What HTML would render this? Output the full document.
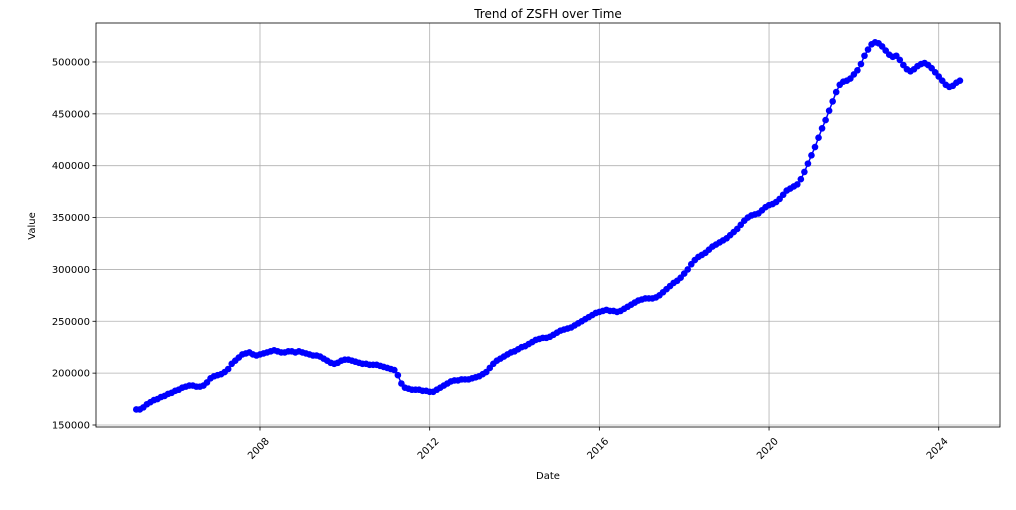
<!DOCTYPE html>
<html><head><meta charset="utf-8"><style>
body{margin:0;background:#fff;}
svg{display:block;font-family:"DejaVu Sans","Liberation Sans",sans-serif;}
</style></head><body>
<svg id="chart" width="1016" height="510"></svg>
<script>
const startYear = 2005 + 1/12;
const values = [
165,165,167,170,172,174,175,177,178,
180,181,183,184,186,187,188,188,187,187,188,191,
195,197,198,199,201,204,209,212,215,218,219,220,
218,217,218,219,220,221,222,221,220,220,221,221,
220,221,220,219,218,217,217,216,214,212,210,209,
210,212,213,213,212,211,210,209,209,208,208,208,
207,206,205,204,203,198,190,186,185,184,184,184,
183,183,182,182,184,186,188,190,192,193,193,194,
194,194,195,196,197,199,201,205,209,212,214,216,
218,220,221,223,225,226,228,230,232,233,234,234,
235,237,239,241,242,243,244,246,248,250,252,254,
256,258,259,260,261,260,260,259,260,262,264,266,
268,270,271,272,272,272,273,275,278,281,284,287,
289,292,296,300,305,309,312,314,316,319,322,324,
326,328,330,333,336,339,343,347,350,352,353,354,
357,360,362,363,365,368,372,376,378,380,382,387,
394,402,410,418,427,436,444,453,462,471,478,481,
482,484,488,492,498,506,512,517,519,518,515,511,
507,505,506,502,497,493,491,493,496,498,499,
497,494,490,486,482,478,476,477,480,482
];
const yTicks = [150000,200000,250000,300000,350000,400000,450000,500000];
const xTicks = [2008,2012,2016,2020,2024];

const NS = "http://www.w3.org/2000/svg";
const svg = document.getElementById('chart');
const L=96,R=1000,T=23,B=427;
function xs(yr){return 260+(yr-2008)*42.42;}
function ys(v){return 425-(v-150000)/50000*51.86;}
function mk(tag,attrs,parent){const e=document.createElementNS(NS,tag);for(const k in attrs)e.setAttribute(k,attrs[k]);(parent||svg).appendChild(e);return e;}

const grid=mk('g',{});


yTicks.forEach(t=>{
  const y=ys(t);
  const gl=mk('line',{x1:L,x2:R,y1:y,y2:y,stroke:'#b0b0b0','stroke-width':0.8},grid);
  
  
  mk('line',{x1:L-3.5,x2:L,y1:y,y2:y,stroke:'#000','stroke-width':0.8});
  const tx=mk('text',{x:L-6,y:y+3.5,'text-anchor':'end','font-size':10});
  tx.textContent=t;
  
  
});
xTicks.forEach(t=>{
  const x=xs(t);
  const gl=mk('line',{x1:x,x2:x,y1:T,y2:B,stroke:'#b0b0b0','stroke-width':0.8},grid);
  
  
  mk('line',{x1:x,x2:x,y1:B,y2:B+3.5,stroke:'#000','stroke-width':0.8});
  const cx=x-1, cy=B+22;
  const tx=mk('text',{x:cx,y:cy,'text-anchor':'middle','dominant-baseline':'central','font-size':10,transform:`rotate(-45 ${cx} ${cy})`});
  tx.textContent=t;
  
  
});

const pts=values.map((v,i)=>[xs(startYear+i/12),ys(v*1000)]);
const line=mk('polyline',{points:pts.map(p=>p.join(',')).join(' '),fill:'none',stroke:'#0000ff','stroke-width':1.5});


const mg=mk('g',{fill:'#0000ff'});


pts.forEach(p=>{
  const c=mk('circle',{cx:p[0],cy:p[1],r:3.3},mg);
  
  
});

const frame=mk('rect',{x:L,y:T,width:R-L,height:B-T,fill:'none',stroke:'#000','stroke-width':0.8});



const title=mk('text',{x:548,y:18,'text-anchor':'middle','font-size':12});
title.textContent='Trend of ZSFH over Time';


const xl=mk('text',{x:548,y:479,'text-anchor':'middle','font-size':10});
xl.textContent='Date';


const yl=mk('text',{x:35,y:226,'text-anchor':'middle','font-size':10,transform:'rotate(-90 35 226)'});
yl.textContent='Value';


</script>
</body></html>
